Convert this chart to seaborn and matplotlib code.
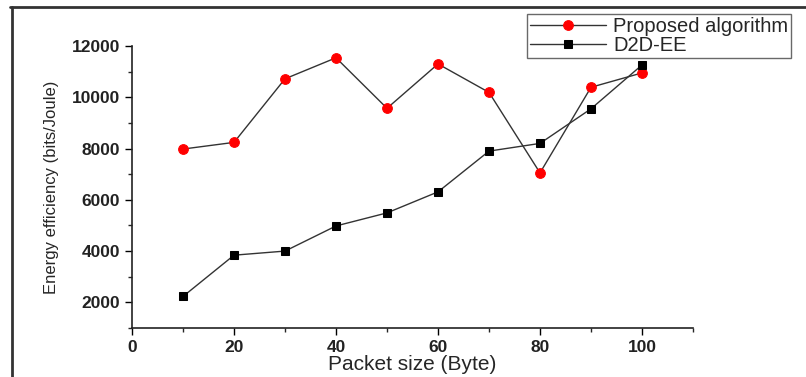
import matplotlib
matplotlib.use("Agg")
import matplotlib.pyplot as plt
import seaborn as sns
from matplotlib.lines import Line2D
from matplotlib.ticker import MultipleLocator

# Data
packet_size = [10, 20, 30, 40, 50, 60, 70, 80, 90, 100]
proposed = [7980, 8240, 10720, 11540, 9570, 11300, 10190, 7050, 10390, 10950]
d2d_ee = [2230, 3840, 4000, 4980, 5490, 6310, 7900, 8200, 9550, 11260]

sns.set_style("ticks")
plt.rcParams["font.family"] = ["Liberation Sans", "DejaVu Sans"]

fig = plt.figure(figsize=(8.06, 3.77), dpi=100)
ax = fig.add_axes([0.1638, 0.130, 0.696, 0.748])

sns.lineplot(x=packet_size, y=proposed, ax=ax, color="#333333", linewidth=1,
             marker="o", markersize=7, markerfacecolor="red", markeredgecolor="red",
             label="Proposed algorithm")
sns.lineplot(x=packet_size, y=d2d_ee, ax=ax, color="#333333", linewidth=1,
             marker="s", markersize=6, markerfacecolor="black", markeredgecolor="black",
             label="D2D-EE")

ax.set_xlim(0, 110)
ax.set_ylim(1000, 12000)
ax.xaxis.set_major_locator(MultipleLocator(20))
ax.xaxis.set_minor_locator(MultipleLocator(10))
ax.yaxis.set_major_locator(MultipleLocator(2000))
ax.yaxis.set_minor_locator(MultipleLocator(1000))
ax.set_yticks([2000, 4000, 6000, 8000, 10000, 12000])
ax.tick_params(which="major", direction="out", length=5, width=1, labelsize=12.5, colors="black")
ax.tick_params(which="minor", direction="out", length=3, width=1)
for lab in ax.get_xticklabels() + ax.get_yticklabels():
    lab.set_fontweight("bold")
    lab.set_color("#222222")
sns.despine(ax=ax)
for s in ["left", "bottom"]:
    ax.spines[s].set_linewidth(1.2)
    ax.spines[s].set_color("#222222")

ax.set_xlabel("Packet size (Byte)", fontsize=15, labelpad=0)
ax.set_ylabel("Energy efficiency (bits/Joule)", fontsize=12, labelpad=9)

leg = ax.legend(loc="upper right", bbox_to_anchor=(0.982, 0.963),
                bbox_transform=fig.transFigure, fontsize=14.5, frameon=True,
                fancybox=False, edgecolor="#444444", handlelength=3.8,
                borderpad=0.15, labelspacing=0.0, handletextpad=0.35,
                borderaxespad=0)
leg.get_frame().set_linewidth(1)

# outer frame of the original figure (top and left only)
fig.add_artist(Line2D([10 / 806, 1.0], [1 - 7 / 377, 1 - 7 / 377],
                      transform=fig.transFigure, color="#333333", linewidth=2))
fig.add_artist(Line2D([11.5 / 806, 11.5 / 806], [0, 1 - 7 / 377],
                      transform=fig.transFigure, color="#333333", linewidth=2))

fig.savefig("out.png", dpi=100)
